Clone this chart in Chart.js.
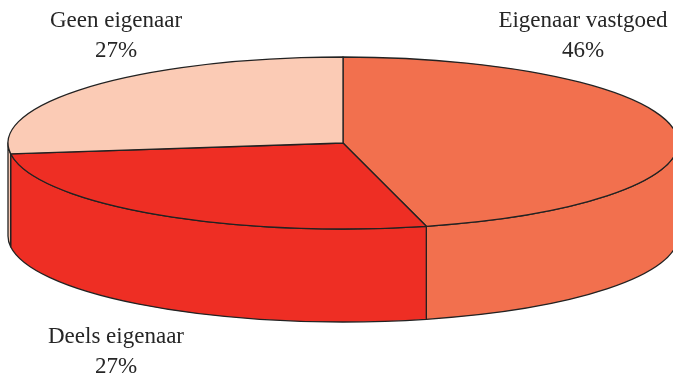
<!DOCTYPE html>
<html>
<head>
<meta charset="utf-8">
<script src="https://cdn.jsdelivr.net/npm/chart.js@4.4.1/dist/chart.umd.min.js"></script>
<style>
  html, body { margin: 0; padding: 0; background: #fff; }
  #wrap { width: 673px; height: 375px; position: relative; }
</style>
</head>
<body>
<div id="wrap"><canvas id="pie"></canvas></div>
<script>
// Verdeling eigendom vastgoed
const LABELS = ["Eigenaar vastgoed", "Deels eigenaar", "Geen eigenaar"];
const VALUES = [46, 27, 27];
const COLORS = ["#F2704E", "#EE2E24", "#FBCBB5"];

// layout van de 3D-schijf
const RX = 335, RY = 86, DEPTH = 93;
const EDGE = "#222222";
// label-ankers (midden van de tekst, basislijn eerste regel)
const LABEL_POS = [[583, 27], [116, 343], [116, 27]];

const pie3d = {
  id: 'pie3d',
  beforeDatasetsDraw(chart) {
    const ctx = chart.ctx;
    const arcs = chart.getDatasetMeta(0).data;
    if (!arcs.length) return false;
    const cx = arcs[0].x, cy = arcs[0].y;
    ctx.save();
    ctx.lineWidth = 1.3;
    ctx.strokeStyle = EDGE;
    ctx.lineJoin = 'round';

    // zijwanden: alleen het voorste deel (hoek 0..PI) is zichtbaar
    arcs.forEach((arc, i) => {
      const s = arc.startAngle, e = arc.endAngle;
      for (let k = -1; k <= 1; k++) {
        const lo = Math.max(s, 2 * Math.PI * k);
        const hi = Math.min(e, 2 * Math.PI * k + Math.PI);
        if (hi <= lo) continue;
        ctx.beginPath();
        ctx.ellipse(cx, cy, RX, RY, 0, lo, hi, false);
        ctx.lineTo(cx + RX * Math.cos(hi), cy + DEPTH + RY * Math.sin(hi));
        ctx.ellipse(cx, cy + DEPTH, RX, RY, 0, hi, lo, true);
        ctx.closePath();
        ctx.fillStyle = COLORS[i];
        ctx.fill();
        ctx.stroke();
      }
    });

    // bovenvlak
    arcs.forEach((arc, i) => {
      ctx.beginPath();
      ctx.moveTo(cx, cy);
      ctx.ellipse(cx, cy, RX, RY, 0, arc.startAngle, arc.endAngle, false);
      ctx.closePath();
      ctx.fillStyle = COLORS[i];
      ctx.fill();
      ctx.stroke();
    });
    ctx.restore();
    return false;
  },
  afterDraw(chart) {
    const ctx = chart.ctx;
    ctx.save();
    ctx.fillStyle = "#262626";
    ctx.font = '23px "Liberation Serif", serif';
    ctx.textAlign = 'center';
    ctx.textBaseline = 'alphabetic';
    LABELS.forEach((lab, i) => {
      const [x, y] = LABEL_POS[i];
      ctx.fillText(lab, x, y);
      ctx.fillText(VALUES[i] + '%', x, y + 30);
    });
    ctx.restore();
  }
};

new Chart(document.getElementById('pie'), {
  type: 'pie',
  data: {
    labels: LABELS,
    datasets: [{ data: VALUES, backgroundColor: COLORS, borderColor: EDGE, borderWidth: 1 }]
  },
  options: {
    responsive: true,
    maintainAspectRatio: false,
    animation: false,
    layout: { padding: { left: 13, right: 0, top: 0, bottom: 89 } },
    plugins: { legend: { display: false }, tooltip: { enabled: false } }
  },
  plugins: [pie3d]
});
</script>
</body>
</html>
